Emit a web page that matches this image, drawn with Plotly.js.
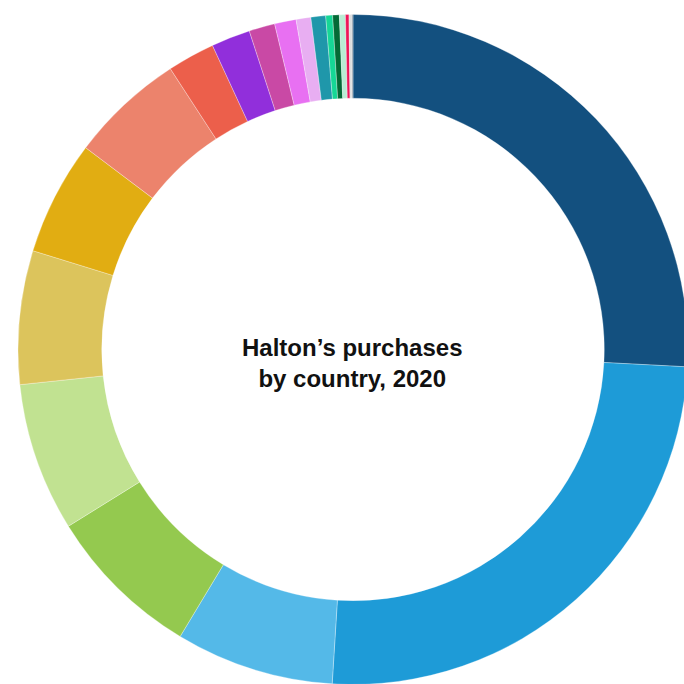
<!DOCTYPE html>
<html>
<head>
<meta charset="utf-8">
<script src="https://cdn.plot.ly/plotly-3.0.1.min.js"></script>
<style>
html,body{margin:0;padding:0;overflow:hidden;background:#fff;}
#chart{width:688px;height:685px;}
</style>
</head>
<body>
<div id="chart"></div>
<script>
const countries = ["Finland","China","Germany","Sweden","United States","Estonia","Italy","Poland","France","Denmark","United Kingdom","Netherlands","Czech Republic","Malaysia","Norway","Spain","Switzerland","Japan","Belgium","Other"];
const shares = [25.83,25.17,7.64,7.53,7.17,6.44,5.53,5.53,2.29,1.88,1.25,1.04,0.71,0.71,0.33,0.32,0.29,0.17,0.13,0.06];
const sliceColors = ["#13507f","#1e9bd7","#54b9e8","#94c94f","#c1e291","#dcc45c","#e1ad12","#ec836c","#ec5f4b","#912fdb","#c949a5","#e870f2","#e8aef2","#1f97aa","#16d796","#046a36","#b9ecd4","#ed1558","#dcdcdc","#8a9aa8"];
const centerTitle = "Halton’s purchases<br>by country, 2020";

Plotly.newPlot("chart", [{
  type: "pie",
  labels: countries,
  values: shares,
  sort: false,
  direction: "clockwise",
  rotation: 0,
  hole: 0.75,
  textinfo: "none",
  hoverinfo: "label+percent",
  marker: {colors: sliceColors, line: {color: "rgba(255,255,255,0.6)", width: 0.5}},
  showlegend: false
}], {
  width: 688,
  height: 685,
  margin: {l: 17.5, r: 0, t: 14, b: 0, pad: 0},
  paper_bgcolor: "#fff",
  annotations: [{
    text: "<b>" + centerTitle + "</b>",
    x: 0.499, y: 0.480, xref: "paper", yref: "paper",
    xanchor: "center", yanchor: "middle",
    showarrow: false,
    font: {family: "Liberation Sans, Arial, sans-serif", size: 24, color: "#111"}
  }]
}, {displayModeBar: false, staticPlot: true});
</script>
</body>
</html>
